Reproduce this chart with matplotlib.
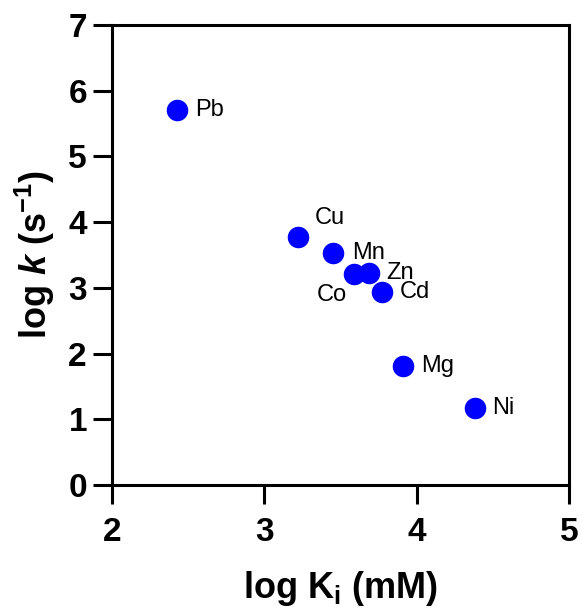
import matplotlib
matplotlib.use("Agg")
import matplotlib.pyplot as plt

plt.rcParams["font.family"] = ["Liberation Sans", "DejaVu Sans"]
plt.rcParams["mathtext.fontset"] = "custom"
plt.rcParams["mathtext.rm"] = "Liberation Sans:bold"
plt.rcParams["mathtext.it"] = "Liberation Sans:italic:bold"
plt.rcParams["mathtext.bf"] = "Liberation Sans:bold"

metals = ["Pb", "Cu", "Mn", "Co", "Zn", "Cd", "Mg", "Ni"]
log_ki = [2.43, 3.22, 3.45, 3.59, 3.69, 3.77, 3.91, 4.38]
log_k = [5.70, 3.77, 3.53, 3.21, 3.23, 2.93, 1.81, 1.17]

# label offsets (points) and alignment
offsets = {
    "Pb": (13, 0, "left"),
    "Cu": (12, 14, "left"),
    "Mn": (14, 0, "left"),
    "Co": (-5, -15, "right"),
    "Zn": (12, 0, "left"),
    "Cd": (13, 0, "left"),
    "Mg": (13, 0, "left"),
    "Ni": (13, 0, "left"),
}

fig = plt.figure(figsize=(5.82, 6.07), dpi=100)
ax = fig.add_axes([0.1924, 0.201, 0.7853, 0.7578])

ax.plot(log_ki, log_k, "o", color="#0000FF", markersize=14.5, linestyle="none",
        clip_on=False)

for name, x, y in zip(metals, log_ki, log_k):
    dx, dy, ha = offsets[name]
    ax.annotate(name, (x, y), xytext=(dx, dy), textcoords="offset points",
                ha=ha, va="center", fontsize=17)

ax.set_xlim(2, 5)
ax.set_ylim(0, 7)
ax.set_xticks([2, 3, 4, 5])
ax.set_yticks(range(0, 8))

for s in ax.spines.values():
    s.set_linewidth(2.2)

ax.tick_params(axis="both", direction="out", length=14, width=2.2,
               labelsize=24)
ax.tick_params(axis="x", pad=9)
ax.tick_params(axis="y", pad=4)
for lab in ax.get_xticklabels() + ax.get_yticklabels():
    lab.set_fontweight("bold")

ax.set_xlabel(r"log K$_{\mathbf{i}}$ (mM)", fontsize=26, fontweight="bold", labelpad=15)
ax.set_ylabel(r"log $k$ (s$^{\mathbf{-1}}$)", fontsize=26, fontweight="bold", labelpad=8)

fig.savefig("out.png", dpi=100)
